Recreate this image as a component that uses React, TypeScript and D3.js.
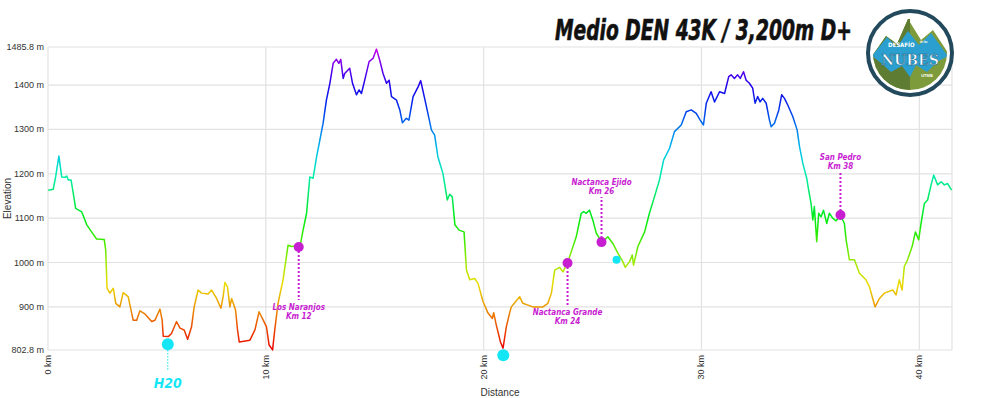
import React, { useLayoutEffect, useMemo, useRef, useState } from "react";
import * as d3 from "d3";

// elevation profile (km, m)
const distKm = [
  0.01, 0.24, 0.35, 0.5, 0.63, 0.78, 0.86, 0.93, 1.06, 1.16, 1.27, 1.55, 1.78, 2.0, 2.23, 2.58, 2.65, 2.71, 2.84, 3.0,
  3.11, 3.3, 3.45, 3.68, 3.91, 4.07, 4.22, 4.45, 4.76, 4.91, 5.14, 5.24, 5.29, 5.52, 5.67, 5.9, 6.06, 6.25, 6.41, 6.59,
  6.71, 6.89, 7.05, 7.35, 7.51, 7.74, 7.94, 8.04, 8.12, 8.24, 8.35, 8.43, 8.61, 8.7, 8.78, 9.27, 9.5, 9.69, 9.88, 10.03,
  10.15, 10.31, 10.41, 10.56, 10.79, 11.02, 11.18, 11.41, 11.56, 11.71, 11.87, 12.02, 12.17, 12.33, 12.48, 12.63, 12.78,
  12.94, 13.09, 13.24, 13.35, 13.44, 13.55, 13.62, 13.85, 13.98, 14.16, 14.28, 14.39, 14.54, 14.74, 14.92, 15.08, 15.23,
  15.38, 15.54, 15.66, 15.77, 16.0, 16.15, 16.27, 16.45, 16.57, 16.76, 16.99, 17.11, 17.29, 17.44, 17.6, 17.75, 17.9,
  18.13, 18.33, 18.44, 18.56, 18.68, 18.87, 19.1, 19.21, 19.36, 19.59, 19.74, 19.97, 20.2, 20.4, 20.46, 20.58, 20.77,
  20.89, 21.04, 21.19, 21.27, 21.65, 21.8, 22.03, 22.26, 22.72, 22.95, 23.11, 23.26, 23.49, 23.64, 23.84, 24.02, 24.25,
  24.48, 24.59, 24.71, 24.86, 25.01, 25.17, 25.44, 25.7, 25.93, 26.16, 26.39, 26.5, 26.7, 26.82, 26.88, 27.08, 27.39,
  27.61, 27.84, 28.07, 28.26, 28.53, 28.76, 29.07, 29.3, 29.53, 29.76, 29.94, 30.09, 30.22, 30.44, 30.6, 30.83, 31.06,
  31.25, 31.36, 31.51, 31.66, 31.78, 31.93, 32.05, 32.2, 32.35, 32.46, 32.58, 32.69, 32.81, 32.97, 33.12, 33.2, 33.35,
  33.55, 33.68, 33.81, 33.96, 34.19, 34.39, 34.5, 34.65, 34.83, 34.92, 35.03, 35.11, 35.18, 35.29, 35.38, 35.49, 35.6,
  35.75, 35.87, 36.02, 36.18, 36.38, 36.56, 36.64, 36.79, 37.02, 37.25, 37.55, 37.71, 37.86, 37.97, 38.17, 38.39, 38.78,
  38.93, 39.08, 39.21, 39.31, 39.46, 39.67, 39.82, 39.97, 40.08, 40.23, 40.38, 40.54, 40.66, 40.84, 41.0, 41.15, 41.3,
  41.48,
];
const elevM = [
  1163, 1165, 1193, 1240, 1193, 1192, 1195, 1186, 1186, 1156, 1122, 1114, 1085, 1069, 1053, 1052, 1028, 942, 931, 942,
  908, 900, 932, 923, 870, 870, 891, 884, 867, 870, 895, 870, 834, 833, 840, 867, 852, 848, 827, 855,
  900, 938, 931, 929, 938, 919, 897, 923, 955, 945, 900, 919, 893, 848, 821, 825, 848, 889, 870, 855,
  814, 803, 848, 908, 961, 1039, 1036, 1037, 1034, 1073, 1111, 1193, 1190, 1238, 1276, 1314, 1366,
  1404, 1449, 1458, 1449, 1458, 1415, 1426, 1438, 1404, 1378, 1389, 1381, 1411, 1453, 1460, 1481, 1456,
  1426, 1404, 1411, 1374, 1366, 1344, 1315, 1325, 1321, 1374, 1396, 1410, 1370, 1336, 1299, 1287, 1238,
  1201, 1141, 1154, 1148, 1085, 1073, 1069, 983, 961, 964, 953, 912, 886, 874, 887, 859, 821,
  807, 855, 886, 900, 923, 908, 904, 900, 900, 908, 931, 983, 989, 979, 998, 1024, 1058,
  1111, 1115, 1111, 1118, 1096, 1066, 1045, 1058, 1043, 1021, 1002, 989, 1002, 1017, 994, 1036, 1069,
  1111, 1148, 1186, 1231, 1257, 1295, 1310, 1340, 1344, 1336, 1321, 1310, 1359, 1385, 1362, 1385, 1381,
  1419, 1423, 1415, 1423, 1415, 1430, 1411, 1404, 1393, 1359, 1374, 1362, 1370, 1359, 1321, 1306, 1314,
  1344, 1378, 1370, 1355, 1329, 1299, 1261, 1224, 1190, 1163, 1133, 1096, 1126, 1047, 1111, 1103, 1118,
  1088, 1111, 1100, 1094, 1106, 1088, 1051, 1006, 1006, 976, 961, 945, 919, 900, 919, 931, 938,
  927, 961, 938, 991, 1006, 1036, 1069, 1051, 1088, 1133, 1141, 1175, 1197, 1175, 1182, 1175, 1178,
  1163,
];

const yTicks = [802.8, 900, 1000, 1100, 1200, 1300, 1400, 1485.8];
const xTicks = [0, 10, 20, 30, 40];

// points of interest
const stopNames = ["Los Naranjos", "Nactanca Grande", "Nactanca Ejido", "San Pedro"];
const stopKmLabels = ["Km 12", "Km 24", "Km 26", "Km 38"];
const stopKm = [11.51, 23.85, 25.41, 36.38];
const stopElev = [1035, 999, 1046, 1107];
const stopLabelAbove = [false, false, true, true];
// leader length in px
const stopLeader = [53, 42, 45, 43];

const waterKm = [5.5, 20.9, 26.1];
const waterElev = [816, 791, 1006];
const waterLabel = ["H20", "", ""];

const W = 1000;
const H = 398;
const M = { left: 48, right: 952, top: 47, bottom: 350 };
const MAGENTA = "#c81ed2";
const CYAN = "#14e6f5";
const TITLE_W = 297;
const narrow = "'Liberation Sans Narrow', 'DejaVu Sans Condensed', 'Liberation Sans', Arial, sans-serif";
const plain = "'Liberation Sans', Arial, sans-serif";

const Logo = () => {
  const cx = 910;
  const cy = 53;
  return (
    <g>
      <defs>
        <clipPath id="logoClip">
          <circle cx={cx} cy={cy} r={37} />
        </clipPath>
      </defs>
      <circle cx={cx} cy={cy} r={42} fill="#fff" stroke="#234a5c" strokeWidth={4} />
      <g clipPath="url(#logoClip)">
        <rect x={cx - 40} y={cy - 40} width={80} height={80} fill="#fff" />
        <polygon
          points="868,62 886,36 897,44 908,19 921,40 933,30 954,62 954,100 868,100"
          fill="#7e9b3c"
        />
        <polygon points="868,62 886,36 897,44 908,19 910,19 910,100 868,100" fill="#5e7c32" />
        <polygon
          points="872,56 887,37 897,47 908,31 919,45 931,33 948,56 937,62 927,72 916,65 910,77 902,66 891,72 881,63"
          fill="#2b9fcf"
        />
        <text x={cx - 22} y={47} fontFamily={narrow} fontWeight="bold" fontSize={6} fill="#fff">
          DESAFÍO
        </text>
        <text x={cx + 10} y={43} fontFamily={plain} fontWeight="bold" fontSize={2.6} fill="#fff">
          de las
        </text>
        <text
          x={cx}
          y={65}
          textAnchor="middle"
          fontFamily="'DejaVu Serif', serif"
          fontWeight="bold"
          fontSize={14}
          fill="#fff"
          stroke="#1c6f93"
          strokeWidth={0.6}
        >
          NUBES
        </text>
        <text x={cx + 17} y={77} textAnchor="middle" fontFamily={plain} fontWeight="bold" fontSize={4} fill="#fff">
          UTMB
        </text>
      </g>
    </g>
  );
};

export default function App() {
  const x = useMemo(() => d3.scaleLinear().domain([0, 41.5]).range([M.left, M.right]), []);
  const y = useMemo(() => d3.scaleLinear().domain([802.8, 1485.8]).range([M.bottom, M.top]), []);

  // squeeze the title horizontally so its real box ends before the logo
  const titleRef = useRef<SVGTextElement>(null);
  const [titleScale, setTitleScale] = useState(0.78);
  useLayoutEffect(() => {
    const w = titleRef.current?.getComputedTextLength() ?? 0;
    if (w > 0) setTitleScale(TITLE_W / w);
  }, []);

  const data = distKm.map((d, i) => ({ km: d, m: elevM[i] }));
  const line = d3
    .line<{ km: number; m: number }>()
    .x((d) => x(d.km))
    .y((d) => y(d.m));

  // colour by elevation, red at the bottom to magenta at the top
  const hueStops: [number, number][] = [
    [802.8, 0], [850, 18], [900, 38], [950, 56], [1000, 80], [1050, 105], [1100, 125],
    [1150, 145], [1200, 165], [1250, 190], [1300, 208], [1350, 228], [1400, 248], [1450, 272], [1485.8, 295],
  ];

  return (
    <svg
      width={W}
      height={H}
      style={{ position: "absolute", left: 0, top: 0, background: "#fff" }}
    >
      <defs>
        <linearGradient id="elevGrad" gradientUnits="userSpaceOnUse" x1={0} x2={0} y1={y(802.8)} y2={y(1485.8)}>
          {hueStops.map(([e, h]) => (
            <stop
              key={e}
              offset={(e - 802.8) / (1485.8 - 802.8)}
              stopColor={d3.hsl(h, 1, 0.46).formatHex()}
            />
          ))}
        </linearGradient>
      </defs>

      {/* grid */}
      {yTicks.map((t) => (
        <line key={t} x1={M.left} x2={M.right} y1={y(t)} y2={y(t)} stroke="#e2e2e2" strokeWidth={1.2} />
      ))}
      {xTicks.map((t) => (
        <line key={t} x1={x(t)} x2={x(t)} y1={M.top} y2={M.bottom} stroke="#e2e2e2" strokeWidth={1.2} />
      ))}
      <line x1={M.right} x2={M.right} y1={M.top} y2={M.bottom} stroke="#e2e2e2" strokeWidth={1.2} />

      {/* y labels */}
      {yTicks.map((t) => (
        <text
          key={t}
          x={M.left - 4}
          y={y(t) + 3}
          textAnchor="end"
          fontFamily={plain}
          fontSize={9}
          fill="#333"
        >
          {`${t} m`}
        </text>
      ))}
      {xTicks.map((t) => (
        <text
          key={t}
          transform={`translate(${x(t) + 3},${M.bottom + 5}) rotate(-90)`}
          textAnchor="end"
          fontFamily={plain}
          fontSize={9}
          fill="#333"
        >
          {`${t} km`}
        </text>
      ))}
      <text
        transform={`translate(11,${(M.top + M.bottom) / 2}) rotate(-90)`}
        textAnchor="middle"
        fontFamily={plain}
        fontSize={10}
        fill="#333"
      >
        Elevation
      </text>
      <text x={(M.left + M.right) / 2} y={396} textAnchor="middle" fontFamily={plain} fontSize={10} fill="#333">
        Distance
      </text>

      {/* profile */}
      <path d={line(data) ?? ""} fill="none" stroke="url(#elevGrad)" strokeWidth={1.5} strokeLinejoin="round" />

      {/* water points */}
      {waterKm.map((k, i) => (
        <g key={k}>
          {waterLabel[i] && (
            <>
              <line
                x1={x(k)}
                x2={x(k)}
                y1={y(waterElev[i])}
                y2={371}
                stroke={CYAN}
                strokeWidth={1}
                strokeDasharray="1.5,1.5"
              />
              <text
                x={x(k)}
                y={388}
                textAnchor="middle"
                fontFamily={narrow}
                fontWeight="bold"
                fontStyle="italic"
                fontSize={14}
                fill={CYAN}
              >
                {waterLabel[i]}
              </text>
            </>
          )}
          <circle cx={x(k)} cy={y(waterElev[i])} r={i === 2 ? 4 : 6} fill={CYAN} />
        </g>
      ))}

      {/* named stops */}
      {stopKm.map((k, i) => {
        const cx = x(k);
        const cy = y(stopElev[i]);
        const above = stopLabelAbove[i];
        const lineEnd = above ? cy - stopLeader[i] : cy + stopLeader[i];
        const t1 = above ? lineEnd - 12 : lineEnd + 10;
        return (
          <g key={k}>
            <line
              x1={cx}
              x2={cx}
              y1={cy}
              y2={lineEnd}
              stroke={MAGENTA}
              strokeWidth={2}
              strokeDasharray="2,2"
            />
            <circle cx={cx} cy={cy} r={5} fill={MAGENTA} />
            <text
              x={cx}
              y={t1}
              textAnchor="middle"
              fontFamily={narrow}
              fontWeight="bold"
              fontStyle="italic"
              fontSize={8}
              fill={MAGENTA}
            >
              <tspan x={cx}>{stopNames[i]}</tspan>
              <tspan x={cx} dy={9}>
                {stopKmLabels[i]}
              </tspan>
            </text>
          </g>
        );
      })}

      {/* title */}
      <text
        ref={titleRef}
        transform={`translate(555,40) scale(${titleScale},1)`}
        fontFamily={narrow}
        fontWeight="bold"
        fontStyle="italic"
        fontSize={28}
        fill="#111"
        stroke="#111"
        strokeWidth={0.6}
      >
        Medio DEN 43K / 3,200m D+
      </text>

      <Logo />
    </svg>
  );
}
